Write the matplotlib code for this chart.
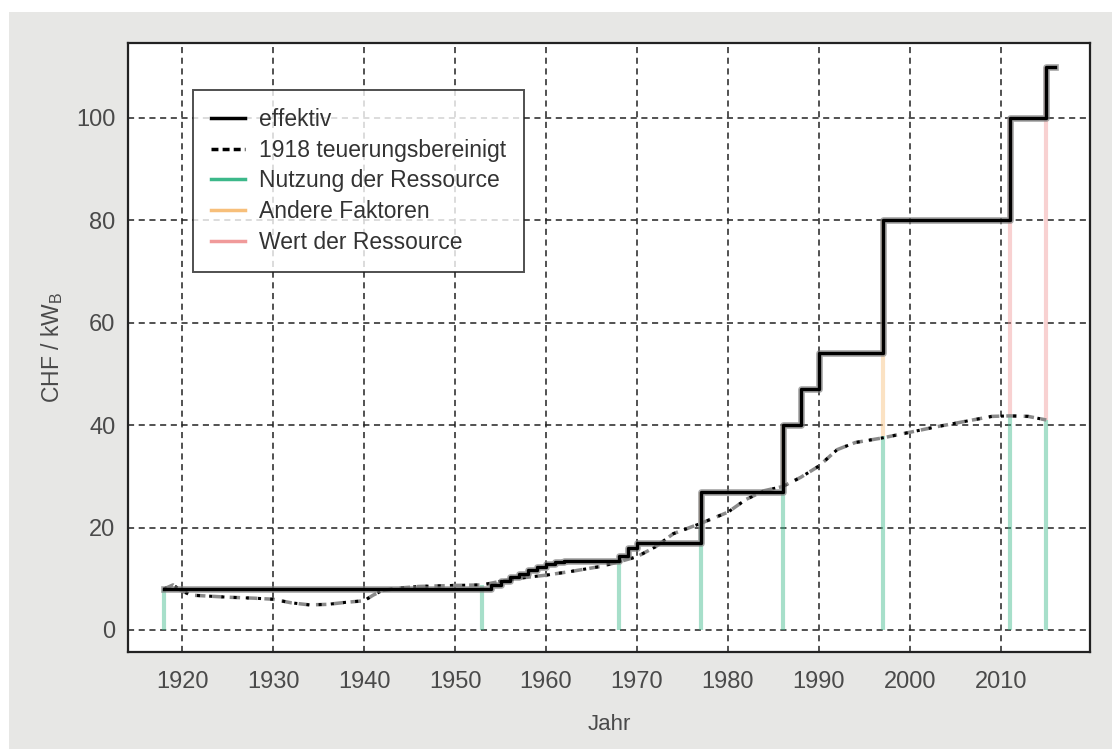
import numpy as np
import matplotlib
matplotlib.use("Agg")
import matplotlib.pyplot as plt
from matplotlib.lines import Line2D
from matplotlib.patches import Rectangle

# effective tariff (step values, each holds until the next year)
eff_years = [1918, 1953, 1954, 1955, 1956, 1957, 1958, 1959, 1960, 1961, 1962,
             1968, 1969, 1970, 1977, 1986, 1988, 1990, 1997, 2011, 2015, 2016]
eff_vals = [8, 8, 8.7, 9.5, 10.3, 11.0, 11.7, 12.3, 12.8, 13.3, 13.5,
            14.5, 16, 17, 27, 40, 47, 54, 80, 100, 110, 110]

# 1918 value adjusted for inflation
adj_years = [1918, 1919, 1920, 1921, 1923, 1925, 1928, 1930, 1932, 1934, 1936,
             1938, 1940, 1941, 1942, 1944, 1946, 1948, 1950, 1953, 1955, 1957,
             1960, 1963, 1966, 1968, 1970, 1972, 1974, 1977, 1980, 1982, 1984,
             1986, 1988, 1990, 1992, 1994, 1997, 2000, 2003, 2006, 2009, 2011,
             2013, 2015]
adj_vals = [8, 8.8, 7.6, 6.8, 6.6, 6.4, 6.2, 6.0, 5.3, 4.9, 5.0,
            5.4, 5.7, 6.8, 7.7, 8.2, 8.5, 8.6, 8.7, 8.8, 9.5, 10.1,
            10.7, 11.5, 12.4, 13.3, 14.3, 16.2, 18.8, 20.8, 23.0, 25.5, 27.2,
            28.0, 29.8, 32.0, 35.2, 36.6, 37.5, 38.6, 39.7, 40.7, 41.7, 41.8,
            41.7, 41.0]

# decomposition at each tariff change
change_years = [1918, 1953, 1968, 1977, 1986, 1997, 2011, 2015]
use_part = [8, 8.8, 13.3, 20.8, 28.0, 37.8, 41.8, 41.0]      # Nutzung der Ressource
other_top = [8, 8.8, 13.5, 27, 40, 80, 41.8, 41.0]           # Andere Faktoren
value_top = [8, 8.8, 13.5, 27, 40, 80, 100, 110]             # Wert der Ressource

xticks = [1920, 1930, 1940, 1950, 1960, 1970, 1980, 1990, 2000, 2010]
yticks = [0, 20, 40, 60, 80, 100]

c_green = "#3cb88a"
c_orange = "#f7bf7a"
c_red = "#f09a9a"
txt = "#4a4a4a"

plt.rcParams["font.family"] = ["Liberation Sans", "DejaVu Sans"]

fig = plt.figure(figsize=(11.12, 7.49), dpi=100)
fig.patch.set_facecolor("white")
fig.patches.append(Rectangle((9 / 1112, 0), 1, (749 - 12) / 749, transform=fig.transFigure,
                             facecolor="#e7e7e5", edgecolor="none", zorder=-10))

ax = fig.add_axes([128 / 1112, 1 - 652 / 749, (1090 - 128) / 1112, (652 - 43) / 749])
ax.set_facecolor("white")

# vertical decomposition bars
for yr, u, o, v in zip(change_years, use_part, other_top, value_top):
    ax.plot([yr, yr], [0, u], color=c_green, lw=3, alpha=0.45, zorder=2, solid_capstyle="butt")
    if o > u:
        ax.plot([yr, yr], [u, o], color=c_orange, lw=3, alpha=0.45, zorder=2, solid_capstyle="butt")
    if v > o:
        ax.plot([yr, yr], [o, v], color=c_red, lw=3, alpha=0.45, zorder=2, solid_capstyle="butt")

# inflation adjusted line: grey dashes with black dots
ax.plot(adj_years, adj_vals, color="#8a8a8a", lw=2.5, ls=(0, (3, 2)), zorder=3)
ax.plot(adj_years, adj_vals, color="black", lw=2.2, ls=(0, (1, 3)), zorder=4)

# effective step line with grey shadow
ax.step(eff_years, eff_vals, where="post", color="#808080", lw=4.8, alpha=0.7, zorder=4)
ax.step(eff_years, eff_vals, where="post", color="black", lw=2.4, zorder=5)

ax.set_xlim(1914.05, 2019.8)
ax.set_ylim(-4.3, 114.6)
ax.set_xticks(xticks)
ax.set_yticks(yticks)
ax.tick_params(length=0, labelsize=17, labelcolor=txt)
ax.tick_params(axis="x", pad=13.5)
ax.tick_params(axis="y", pad=9)
ax.grid(True, color="#222222", lw=1.1, ls=(0, (4, 3)))
ax.set_axisbelow(True)
for s in ax.spines.values():
    s.set_linewidth(1.6)
    s.set_color("#222222")

ax.set_xlabel("Jahr", fontsize=16, color=txt, labelpad=15)
ax.set_ylabel(r"CHF / kW$_\mathregular{B}$", fontsize=16.5, color=txt, labelpad=8)

handles = [
    Line2D([], [], color="black", lw=2.5),
    Line2D([], [], color="black", lw=2.5, ls=(0, (2, 1.2))),
    Line2D([], [], color=c_green, lw=2.5),
    Line2D([], [], color=c_orange, lw=2.5),
    Line2D([], [], color=c_red, lw=2.5),
]
labels = ["effektiv", "1918 teuerungsbereinigt", "Nutzung der Ressource",
          "Andere Faktoren", "Wert der Ressource"]
leg = ax.legend(handles, labels, loc="upper left", bbox_to_anchor=(0.0676, 0.9228),
                fontsize=16.5, frameon=True, fancybox=False, handlelength=1.45,
                labelspacing=0.33, borderpad=0.8, handletextpad=0.62, borderaxespad=0)
leg.get_frame().set_edgecolor("#222222")
leg.get_frame().set_linewidth(1.4)
for t in leg.get_texts():
    t.set_color("#333333")

fig.savefig("out.png", dpi=100)
